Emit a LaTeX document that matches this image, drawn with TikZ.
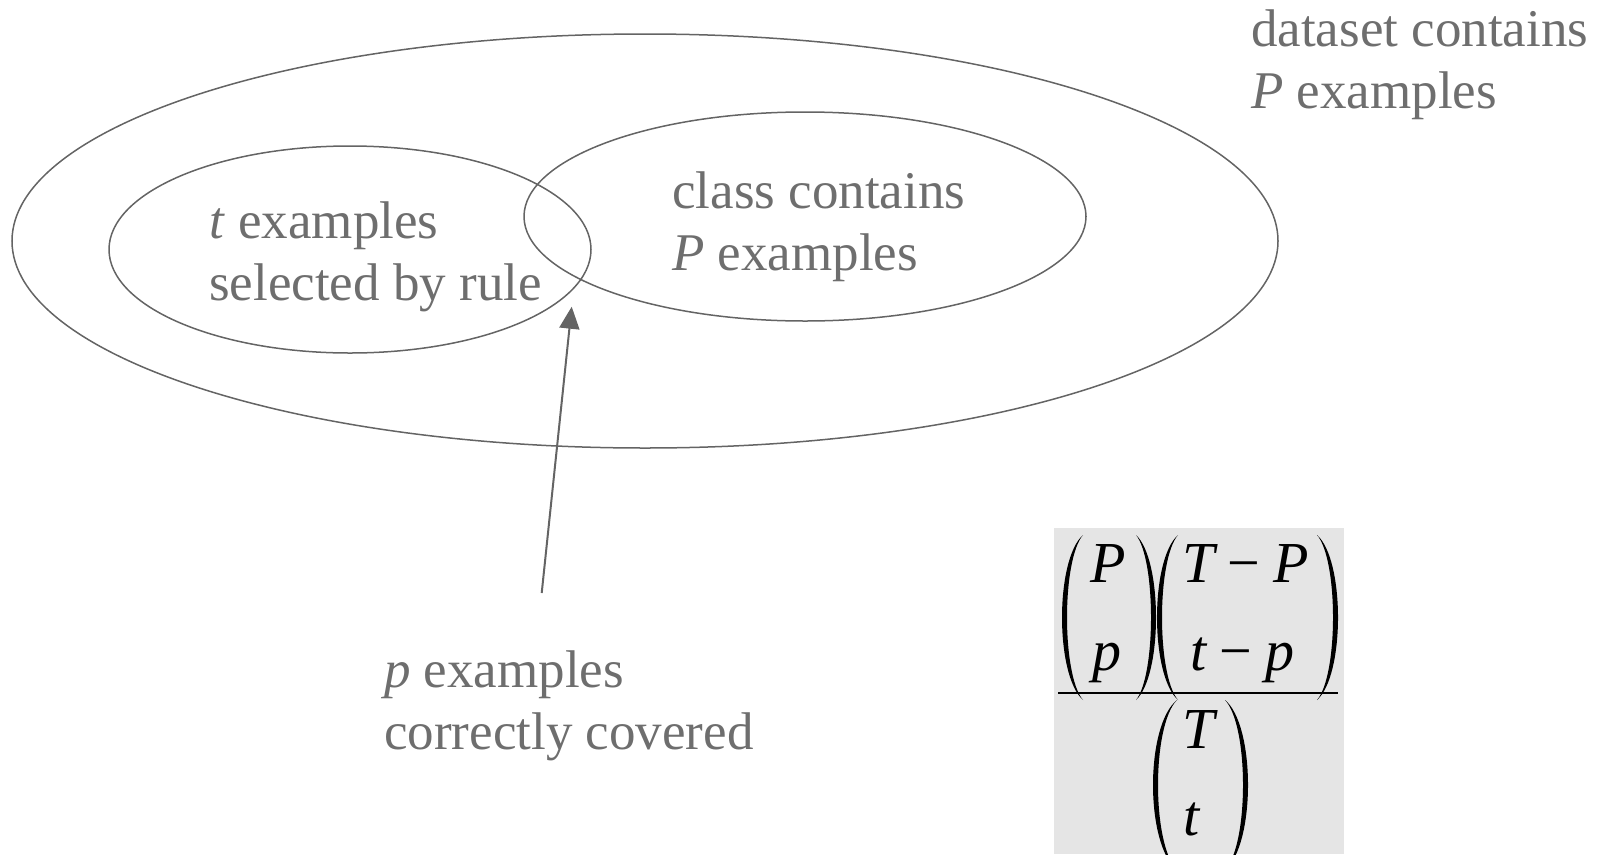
\documentclass[tikz,border=0pt]{standalone}
\usepackage{fontspec}
\setmainfont{Liberation Serif}
\usetikzlibrary{arrows.meta}
\definecolor{txtgray}{RGB}{110,110,110}
\definecolor{linegray}{RGB}{100,100,100}
\definecolor{boxgray}{RGB}{229,229,229}
% left parenthesis: #1 = leftmost x, #2 = width, #3 = top y, #4 = bottom y
\newcommand\myLpar[4]{%
  \fill (#1+#2,#3) .. controls ({#1-#2/3},{#3+(#4-#3)*0.15}) and ({#1-#2/3},{#4-(#4-#3)*0.15}) .. (#1+#2,#4)
    .. controls ({#1+5-(#2-5)/3},{#4-(#4-#3)*0.15}) and ({#1+5-(#2-5)/3},{#3+(#4-#3)*0.15}) .. (#1+#2,#3) -- cycle;}
% right parenthesis: #1 = rightmost x
\newcommand\myRpar[4]{%
  \fill (#1-#2,#3) .. controls ({#1+#2/3},{#3+(#4-#3)*0.15}) and ({#1+#2/3},{#4-(#4-#3)*0.15}) .. (#1-#2,#4)
    .. controls ({#1-5+(#2-5)/3},{#4-(#4-#3)*0.15}) and ({#1-5+(#2-5)/3},{#3+(#4-#3)*0.15}) .. (#1-#2,#3) -- cycle;}
\begin{document}
\begin{tikzpicture}[x=1pt,y=-1pt,
  lbl/.style={text=txtgray, inner sep=0pt, align=left, anchor=base west,
    font=\fontsize{53}{62}\selectfont},
  fml/.style={text=black, inner sep=0pt, anchor=base west,
    font=\fontsize{58}{60}\selectfont\itshape},
  venn/.style={draw=linegray, line width=1.5pt}]
\useasboundingbox (0,0) rectangle (1597,854);
% Venn ellipses
\draw[venn] (645,241) ellipse [x radius=633pt, y radius=207pt];
\draw[venn] (350,249.5) ellipse [x radius=241pt, y radius=103.5pt];
\draw[venn] (805,216.5) ellipse [x radius=281pt, y radius=104.5pt];
% labels (anchor = baseline of last line)
\node[lbl] (dataset) at (1251,108) {dataset contains\\\textit{P} examples};
\node[lbl] (selected) at (209,300) {\textit{t} examples\\selected by rule};
\node[lbl] (class) at (672,270) {class contains\\\textit{P} examples};
\node[lbl] (covered) at (384,749) {\textit{p} examples\\correctly covered};
% arrow
\coordinate (arrowstart) at (541.7,593);
\coordinate (arrowtip) at (571.7,306.7);
\draw[draw=linegray, line width=2pt, -{Triangle[width=20pt,length=22pt]}, fill=linegray]
  (arrowstart) -- (arrowtip);
% formula
\fill[boxgray] (1054,528) rectangle (1344,854);
\fill[black] (1058,692) rectangle (1338,694);
\begin{scope}[fill=black]
\myLpar{1062}{21}{535}{700}
\myRpar{1156}{20}{535}{700}
\myLpar{1157}{21}{535}{700}
\myRpar{1338}{21}{535}{700}
\myLpar{1153}{24}{700}{870}
\myRpar{1248}{23}{700}{870}
\end{scope}
\node[fml] (nP) at (1090,582) {P};
\node[fml] (np) at (1092,670) {p};
\node[fml] (nTP) at (1182,582) {T\hspace{13pt}\upshape−\hspace{13pt}\itshape P};
\node[fml] (ntp) at (1190,670) {t\hspace{13pt}\upshape−\hspace{13pt}\itshape p};
\node[fml] (dT) at (1182,748) {T};
\node[fml] (dt) at (1183,835) {t};
\end{tikzpicture}
\end{document}
